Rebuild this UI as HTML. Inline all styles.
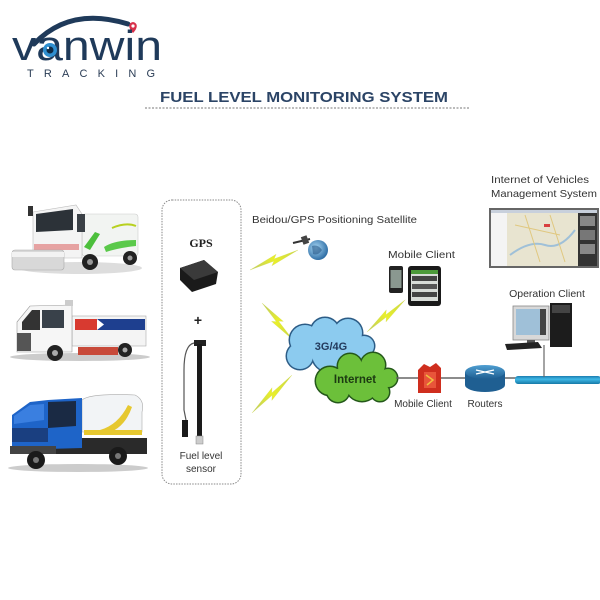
<!DOCTYPE html>
<html><head><meta charset="utf-8"><style>
html,body{margin:0;padding:0;background:#fff;}
svg{display:block;}
</style></head><body>
<svg width="600" height="600" viewBox="0 0 600 600" xmlns="http://www.w3.org/2000/svg" font-family="Liberation Sans, sans-serif">
<defs>
<linearGradient id="bolt" x1="0" y1="0" x2="1" y2="0"><stop offset="0" stop-color="#b9c86a"/><stop offset="0.5" stop-color="#e9ef2a"/><stop offset="1" stop-color="#c8d64a"/></linearGradient>
<radialGradient id="globe" cx="0.4" cy="0.4" r="0.7"><stop offset="0" stop-color="#a9d8f5"/><stop offset="1" stop-color="#1d5f9a"/></radialGradient>
<linearGradient id="pipe" x1="0" y1="0" x2="0" y2="1"><stop offset="0" stop-color="#1b7db0"/><stop offset="0.4" stop-color="#3fb8e6"/><stop offset="1" stop-color="#167aa8"/></linearGradient>
<linearGradient id="router" x1="0" y1="0" x2="0" y2="1"><stop offset="0" stop-color="#4f9fd2"/><stop offset="1" stop-color="#1f5f92"/></linearGradient>
<polygon id="bz" points="0,0 58,-4.5 51,-1 100,0 42,4.5 49,1"/>
</defs>
<rect width="600" height="600" fill="#fff"/>

<!-- Logo -->
<path d="M34 44 Q70 6 128 24" fill="none" stroke="#1f3a5a" stroke-width="5" stroke-linecap="round"/>
<path d="M133 33 C128 28 128 23 133 22 C138 23 138 28 133 33 Z" fill="#d8304a"/>
<circle cx="133" cy="26" r="1.6" fill="#fff"/>
<text x="12" y="60" font-size="42" fill="#1f3a5a" textLength="150" lengthAdjust="spacingAndGlyphs">vanwin</text>
<circle cx="50" cy="50" r="7" fill="#2f8fd0"/>
<circle cx="50" cy="50" r="3.5" fill="#0e2a44"/>
<circle cx="48" cy="48" r="1.2" fill="#fff"/>
<text x="27" y="77" font-size="11" fill="#2a3c55" textLength="128" lengthAdjust="spacing">TRACKING</text>

<!-- Title -->
<text x="160" y="102" font-size="15" font-weight="bold" fill="#2b4466" textLength="288" lengthAdjust="spacingAndGlyphs">FUEL LEVEL MONITORING SYSTEM</text>
<line x1="145" y1="108" x2="470" y2="108" stroke="#777" stroke-width="1" stroke-dasharray="2,1.5"/>

<!-- Truck 1 -->
<ellipse cx="80" cy="268" rx="62" ry="6" fill="#ddd"/>
<rect x="82" y="214" width="56" height="42" rx="3" fill="#f2f4f2" stroke="#ccc" stroke-width="0.6"/>
<path d="M84 247 L95 232 L100 234 L90 250 Z" fill="#4cbf3c"/>
<path d="M104 247 Q115 240 136 240 L136 246 Q118 248 106 252 Z" fill="#5ac94a"/>
<path d="M112 228 Q126 222 136 226" stroke="#b8d020" stroke-width="2" fill="none"/>
<path d="M33 212 L76 205 L82 214 L82 258 L33 258 Z" fill="#f4f4f4" stroke="#bbb" stroke-width="0.6"/>
<path d="M36 214 L73 209 L73 230 L36 232 Z" fill="#2c3238"/>
<rect x="77" y="214" width="8" height="18" fill="#3a4046"/>
<rect x="34" y="244" width="45" height="6" fill="#d85050" opacity="0.5"/>
<rect x="12" y="250" width="52" height="20" rx="3" fill="#d8d8d8" stroke="#aaa" stroke-width="0.6"/>
<rect x="12" y="252" width="52" height="5" fill="#f2f2f2"/>
<circle cx="90" cy="262" r="8" fill="#222"/><circle cx="90" cy="262" r="3" fill="#999"/>
<circle cx="130" cy="258" r="7" fill="#222"/><circle cx="130" cy="258" r="2.5" fill="#999"/>
<rect x="28" y="206" width="5" height="10" fill="#333"/>

<!-- Truck 2 -->
<ellipse cx="80" cy="357" rx="70" ry="4" fill="#ccc"/>
<rect x="72" y="316" width="74" height="30" fill="#f4f4f4" stroke="#aaa" stroke-width="0.6"/>
<rect x="75" y="319" width="22" height="11" fill="#d83a30"/>
<rect x="97" y="319" width="48" height="11" fill="#1e3f8f"/>
<path d="M97 319 L104 324.5 L97 330 Z" fill="#fff"/>
<path d="M17 322 L30 306 L72 305 L72 352 L17 352 Z" fill="#f6f6f6" stroke="#999" stroke-width="0.6"/>
<path d="M22 322 L32 310 L40 310 L40 330 L22 330 Z" fill="#333"/>
<rect x="42" y="310" width="22" height="18" fill="#39414a"/>
<rect x="17" y="333" width="14" height="18" fill="#555"/>
<rect x="78" y="347" width="40" height="8" fill="#c84a3a"/>
<circle cx="55" cy="353" r="8" fill="#222"/><circle cx="55" cy="353" r="3" fill="#aaa"/>
<circle cx="125" cy="350" r="7" fill="#222"/><circle cx="125" cy="350" r="2.5" fill="#aaa"/>
<rect x="65" y="300" width="8" height="6" fill="#ccc"/>

<!-- Truck 3 -->
<ellipse cx="78" cy="468" rx="70" ry="4" fill="#ccc"/>
<path d="M82 400 Q90 393 135 395 Q145 400 142 412 L142 432 L82 432 Z" fill="#f2f4f6" stroke="#aaa" stroke-width="0.6"/>
<path d="M100 430 Q118 425 128 405 L132 407 Q124 430 104 434 Z" fill="#e6c830"/>
<rect x="84" y="430" width="58" height="5" fill="#e6c830"/>
<rect x="15" y="438" width="132" height="16" fill="#2a2a2a"/>
<path d="M12 415 L30 402 L48 400 L82 398 L82 448 L12 450 Z" fill="#1e64c8"/>
<path d="M48 402 L76 401 L76 426 L48 428 Z" fill="#1a2a44"/>
<path d="M14 416 L30 405 L44 404 L44 420 L14 424 Z" fill="#3a7fe0"/>
<rect x="12" y="428" width="36" height="14" fill="#1a3f80"/>
<rect x="10" y="446" width="46" height="8" fill="#444"/>
<circle cx="36" cy="460" r="9" fill="#1a1a1a"/><circle cx="36" cy="460" r="3" fill="#777"/>
<circle cx="118" cy="456" r="9" fill="#1a1a1a"/><circle cx="118" cy="456" r="3" fill="#777"/>

<!-- Dashed box -->
<rect x="162" y="200" width="79" height="284" rx="10" fill="none" stroke="#888" stroke-width="1" stroke-dasharray="1.5,1.2"/>
<text x="201" y="247" font-size="12" font-weight="bold" fill="#222" text-anchor="middle" style="font-family:'Liberation Serif',serif">GPS</text>
<path d="M180 268 L204 260 L218 272 L216 284 L192 292 L180 280 Z" fill="#1a1a1a"/>
<path d="M180 268 L204 260 L218 272 L194 280 Z" fill="#3a3a3a"/>
<text x="198" y="325" font-size="14" font-weight="bold" fill="#222" text-anchor="middle">+</text>
<rect x="194" y="340" width="12" height="6" fill="#222"/>
<rect x="197" y="344" width="5" height="96" fill="#1a1a1a"/>
<rect x="196" y="436" width="7" height="8" fill="#ccc" stroke="#888" stroke-width="0.5"/>
<path d="M194 343 Q184 345 184 370 L184 410 L186 420" fill="none" stroke="#555" stroke-width="1.2"/>
<rect x="182" y="420" width="6" height="17" fill="#1a1a1a"/>
<text x="201" y="459" font-size="10" fill="#333" text-anchor="middle">Fuel level</text>
<text x="201" y="472" font-size="10" fill="#333" text-anchor="middle">sensor</text>

<!-- Bolts -->
<g fill="url(#bolt)" stroke="#cfd84a" stroke-width="0.3">
<use href="#bz" transform="translate(250,270) rotate(-22.6) scale(0.52,1)"/>
<use href="#bz" transform="translate(262,303) rotate(50) scale(0.48,1)"/>
<use href="#bz" transform="translate(252,413) rotate(-43.5) scale(0.55,1)"/>
<use href="#bz" transform="translate(367,332) rotate(-40.1) scale(0.50,1)"/>
</g>

<!-- Satellite -->
<text x="252" y="223" font-size="10.5" fill="#333" textLength="165" lengthAdjust="spacingAndGlyphs">Beidou/GPS Positioning Satellite</text>
<circle cx="318" cy="250" r="10" fill="url(#globe)"/>
<path d="M312 246 Q318 244 322 250 Q318 256 313 254 Z" fill="#2a5a88" opacity="0.6"/>
<line x1="293" y1="243" x2="310" y2="239" stroke="#333" stroke-width="2"/>
<rect x="302" y="236" width="6" height="8" fill="#444" transform="rotate(-20 305 240)"/>

<!-- Mobile client -->
<text x="388" y="258" font-size="10" fill="#333" textLength="67" lengthAdjust="spacingAndGlyphs">Mobile Client</text>
<rect x="389" y="266" width="14" height="27" rx="2" fill="#222"/>
<rect x="390.5" y="270" width="11" height="18" fill="#8a9890"/>
<rect x="408" y="266" width="33" height="40" rx="3" fill="#1a1a1a"/>
<rect x="411" y="270" width="27" height="31" fill="#d8dcd8"/>
<rect x="411" y="270" width="27" height="4" fill="#4c9a3a"/>
<rect x="412" y="276" width="25" height="5" fill="#444"/>
<rect x="412" y="284" width="25" height="5" fill="#555"/>
<rect x="412" y="292" width="25" height="5" fill="#444"/>

<!-- Clouds -->
<g fill="#2c5c86">
<circle cx="305" cy="340" r="16.5"/><circle cx="325" cy="332" r="15.5"/><circle cx="348" cy="333" r="15.5"/><circle cx="364" cy="346" r="11.5"/><circle cx="300" cy="356" r="14.5"/><circle cx="330" cy="354" r="19.5"/><circle cx="354" cy="355" r="15.5"/>
</g>
<g fill="#8ccbef">
<circle cx="305" cy="340" r="15"/><circle cx="325" cy="332" r="14"/><circle cx="348" cy="333" r="14"/><circle cx="364" cy="346" r="10"/><circle cx="300" cy="356" r="13"/><circle cx="330" cy="354" r="18"/><circle cx="354" cy="355" r="14"/>
<ellipse cx="331" cy="346" rx="30" ry="15"/>
</g>
<text x="331" y="350" font-size="11" font-weight="bold" fill="#233a5c" text-anchor="middle">3G/4G</text>
<g fill="#24581a">
<circle cx="330" cy="381" r="15.5"/><circle cx="350" cy="366" r="13.5"/><circle cx="373" cy="365" r="13.5"/><circle cx="388" cy="378" r="10.5"/><circle cx="338" cy="391" r="12.5"/><circle cx="362" cy="385" r="17.5"/><circle cx="380" cy="392" r="10.5"/>
</g>
<g fill="#6cc03a">
<circle cx="330" cy="381" r="14"/><circle cx="350" cy="366" r="12"/><circle cx="373" cy="365" r="12"/><circle cx="388" cy="378" r="9"/><circle cx="338" cy="391" r="11"/><circle cx="362" cy="385" r="16"/><circle cx="380" cy="392" r="9"/>
<ellipse cx="358" cy="380" rx="30" ry="15"/>
</g>
<text x="355" y="383" font-size="11.5" font-weight="bold" fill="#1c3a12" text-anchor="middle">Internet</text>

<!-- Network line -->
<line x1="396" y1="378" x2="516" y2="378" stroke="#666" stroke-width="1.5"/>
<!-- Firewall -->
<path d="M418 370 L424 364 L430 367 L436 363 L441 368 L441 393 L418 393 Z" fill="#cf2e1e"/>
<path d="M424 372 L436 372 L436 388 L424 388 Z" fill="#e8553a"/>
<path d="M426 375 L433 380 L427 385" fill="none" stroke="#f0c040" stroke-width="1.5"/>
<!-- Router -->
<path d="M465 372 L465 385 A20 7 0 0 0 505 385 L505 372 Z" fill="#1f5f92"/>
<ellipse cx="485" cy="372" rx="20" ry="7" fill="url(#router)"/>
<path d="M476 370 L494 374 M494 370 L476 374" stroke="#fff" stroke-width="1.2"/>
<text x="423" y="407" font-size="10" fill="#333" text-anchor="middle">Mobile Client</text>
<text x="485" y="407" font-size="10" fill="#333" text-anchor="middle">Routers</text>
<!-- Pipe -->
<rect x="515" y="376" width="86" height="8" rx="3" fill="url(#pipe)"/>
<line x1="544" y1="345" x2="544" y2="377" stroke="#666" stroke-width="1.2"/>

<!-- Operation client -->
<text x="547" y="297" font-size="10.5" fill="#333" text-anchor="middle">Operation Client</text>
<rect x="513" y="306" width="36" height="34" fill="#d8d8d8" stroke="#888" stroke-width="0.8"/>
<rect x="516" y="309" width="30" height="26" fill="#9fc0d8"/>
<rect x="540" y="309" width="6" height="26" fill="#444"/>
<rect x="527" y="340" width="8" height="4" fill="#555"/>
<rect x="550" y="303" width="22" height="44" fill="#1c1c1c"/>
<rect x="552" y="305" width="18" height="8" fill="#444"/>
<path d="M505 344 L538 342 L542 348 L507 350 Z" fill="#222"/>

<!-- IoV management -->
<text x="491" y="183" font-size="10.5" fill="#333" textLength="98" lengthAdjust="spacingAndGlyphs">Internet of Vehicles</text>
<text x="491" y="197" font-size="10.5" fill="#333" textLength="106" lengthAdjust="spacingAndGlyphs">Management System</text>
<rect x="489" y="208" width="110" height="60" fill="#666"/>
<rect x="491" y="210" width="106" height="56" fill="#e8e4d0"/>
<rect x="491" y="210" width="106" height="3" fill="#c8d0dc"/>
<rect x="491" y="213" width="16" height="53" fill="#f4f4f4"/>
<rect x="578" y="213" width="19" height="53" fill="#333"/>
<rect x="580" y="216" width="15" height="10" fill="#888"/>
<rect x="580" y="230" width="15" height="10" fill="#777"/>
<rect x="580" y="244" width="15" height="10" fill="#888"/>
<path d="M510 255 Q530 240 545 245 Q560 250 575 230" fill="none" stroke="#9fc0d8" stroke-width="2"/>
<path d="M515 225 L560 235 M525 215 L540 262 M550 215 L565 262" stroke="#e0c880" stroke-width="1"/>
<rect x="544" y="224" width="6" height="3" fill="#d84040"/>
</svg>
</body></html>
